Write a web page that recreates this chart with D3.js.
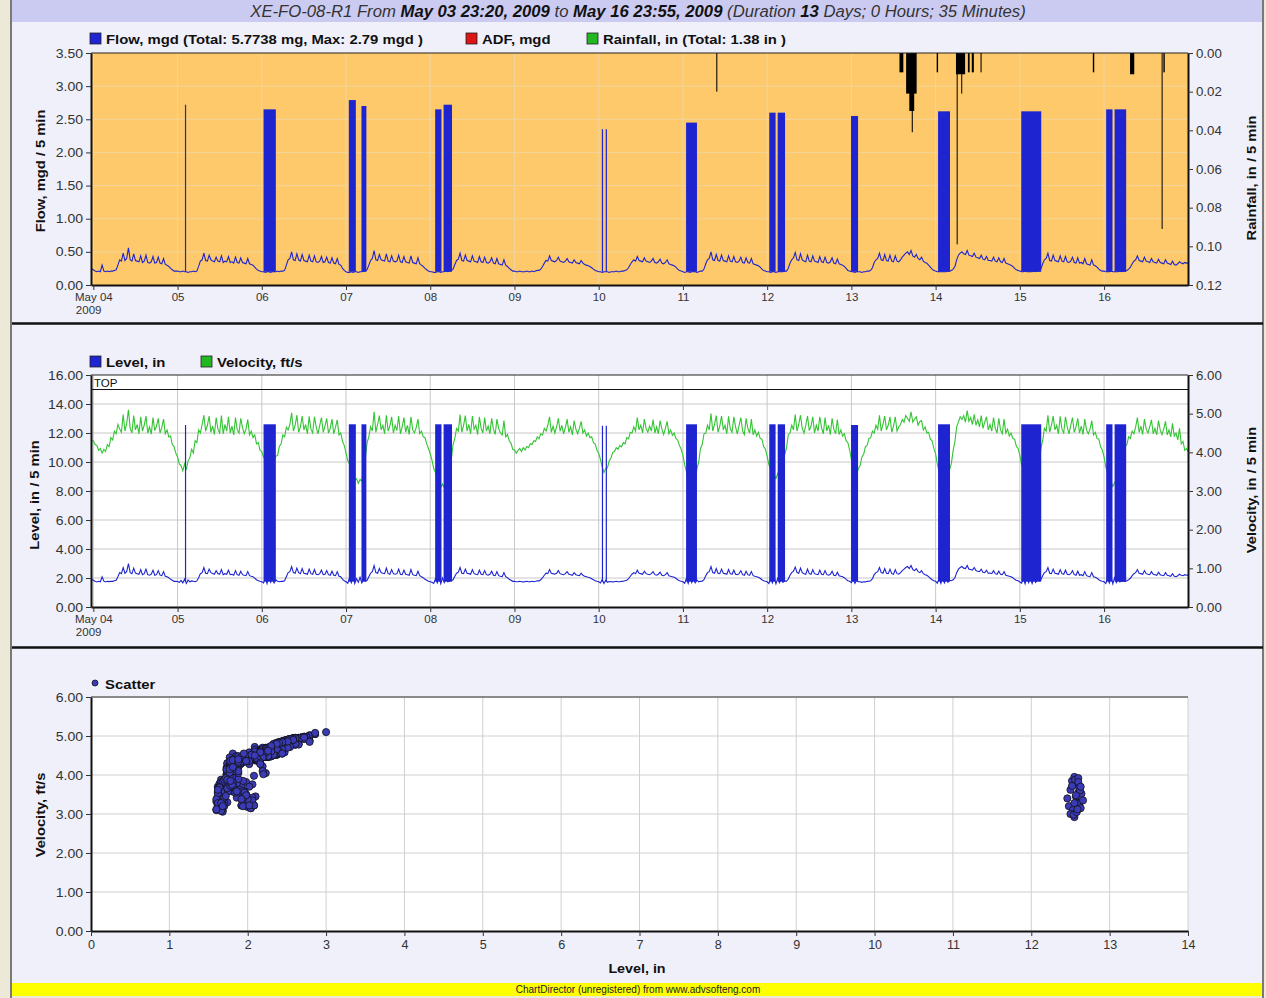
<!DOCTYPE html>
<html>
<head>
<meta charset="utf-8">
<script src="https://cdn.jsdelivr.net/npm/d3@7"></script>
<style>
  body { margin: 0; background: #ECE9D8; }
  svg { display: block; font-family: "Liberation Sans", Arial, sans-serif; }
</style>
</head>
<body>
<svg id="chart" width="1266" height="998"></svg>
<script>
// ---------------- data ----------------
// Day tick labels (hour 0 = May 04 00:00)
const dayNames = ['May 04', '05', '06', '07', '08', '09', '10', '11', '12', '13', '14', '15', '16'];

// Half-hourly readings per day, 00:00 .. 23:30
const flowDays = [
  [.23,.21,.20,.21,.20,.30,.21,.20,.21,.20,.21,.21,.22,.23,.30,.38,.36,.48,.37,.40,.56,.38,.36,.47,.37,.36,.35,.44,.34,.36,.45,.34,.33,.35,.43,.33,.34,.42,.33,.32,.40,.31,.30,.28,.25,.23,.21,.21],
  [.21,.20,.20,.21,.20,.20,.19,.20,.20,.21,.20,.21,.28,.36,.38,.48,.37,.36,.45,.38,.36,.35,.42,.36,.35,.44,.34,.36,.35,.43,.34,.35,.33,.42,.34,.33,.41,.34,.33,.32,.40,.32,.31,.30,.27,.24,.22,.21],
  [.20,.20,.19,.20,.20,.19,.20,.20,.20,.21,.20,.21,.21,.22,.30,.38,.40,.50,.38,.37,.47,.38,.36,.46,.37,.36,.35,.45,.36,.35,.44,.35,.34,.36,.43,.34,.35,.42,.34,.33,.41,.33,.32,.40,.31,.30,.25,.22],
  [.20,.19,.19,.20,.19,.20,.20,.19,.20,.20,.21,.21,.23,.30,.37,.40,.52,.38,.37,.46,.38,.37,.36,.47,.36,.35,.44,.36,.35,.36,.45,.35,.34,.43,.35,.34,.33,.44,.34,.33,.32,.41,.32,.30,.28,.25,.23,.21],
  [.20,.20,.19,.19,.20,.20,.19,.20,.20,.21,.20,.21,.22,.24,.31,.37,.39,.48,.37,.36,.45,.37,.36,.35,.44,.36,.35,.34,.43,.35,.34,.42,.34,.33,.35,.41,.33,.32,.40,.32,.31,.30,.38,.30,.28,.25,.23,.21],
  [.21,.20,.20,.21,.20,.20,.20,.21,.20,.20,.21,.20,.21,.22,.22,.24,.28,.33,.37,.36,.44,.37,.36,.35,.37,.42,.36,.35,.34,.36,.40,.35,.34,.33,.38,.34,.33,.32,.37,.33,.31,.30,.29,.28,.26,.24,.22,.21],
  [.20,.20,.19,.20,.20,.20,.19,.20,.20,.20,.21,.20,.20,.21,.21,.22,.23,.26,.31,.35,.38,.36,.43,.37,.36,.35,.41,.36,.35,.34,.36,.40,.34,.33,.35,.39,.33,.32,.34,.38,.32,.31,.30,.29,.27,.24,.22,.21],
  [.20,.19,.20,.20,.19,.20,.20,.20,.19,.20,.21,.21,.24,.32,.38,.40,.50,.38,.37,.46,.37,.36,.45,.37,.36,.35,.44,.36,.35,.43,.35,.34,.36,.42,.34,.33,.41,.34,.33,.40,.32,.31,.30,.29,.27,.24,.22,.21],
  [.20,.20,.19,.20,.20,.19,.20,.20,.20,.20,.21,.21,.25,.33,.38,.41,.49,.38,.37,.47,.38,.36,.35,.45,.36,.35,.44,.36,.35,.34,.43,.35,.34,.42,.34,.33,.35,.41,.33,.32,.39,.32,.31,.30,.28,.25,.22,.21],
  [.20,.20,.19,.20,.20,.20,.19,.20,.20,.21,.21,.22,.26,.34,.38,.40,.48,.38,.37,.46,.37,.36,.45,.36,.35,.44,.36,.35,.38,.42,.45,.48,.50,.46,.52,.44,.42,.46,.40,.38,.42,.36,.34,.33,.30,.27,.24,.22],
  [.21,.20,.20,.20,.20,.20,.20,.21,.21,.22,.24,.28,.38,.45,.48,.50,.47,.46,.52,.45,.44,.43,.48,.42,.41,.40,.45,.39,.38,.43,.37,.37,.36,.42,.36,.35,.41,.35,.34,.40,.33,.32,.31,.30,.28,.25,.23,.22],
  [.21,.20,.20,.21,.20,.20,.20,.20,.21,.20,.21,.21,.24,.32,.38,.40,.48,.37,.36,.45,.37,.36,.35,.44,.36,.35,.43,.35,.34,.36,.42,.34,.33,.41,.33,.34,.32,.40,.32,.31,.30,.38,.30,.29,.27,.24,.22,.21],
  [.21,.20,.20,.20,.21,.20,.20,.20,.20,.21,.20,.21,.21,.22,.24,.27,.32,.36,.38,.44,.37,.36,.35,.42,.36,.35,.34,.40,.35,.34,.33,.39,.34,.33,.32,.38,.33,.32,.31,.36,.31,.30,.32,.35,.33,.32,.34,.33]
];

const levelDays = [
  [1.85,1.78,1.73,1.77,1.74,2.08,1.78,1.73,1.77,1.75,1.78,1.77,1.81,1.85,2.09,2.37,2.30,2.72,2.33,2.44,3.00,2.37,2.30,2.68,2.34,2.30,2.26,2.58,2.23,2.30,2.61,2.23,2.19,2.26,2.54,2.19,2.23,2.51,2.20,2.16,2.44,2.12,2.09,2.02,1.91,1.84,1.77,1.77],
  [1.76,1.70,1.84,1.66,1.92,1.62,1.86,1.74,1.80,1.77,1.74,1.80,2.02,2.30,2.37,2.72,2.33,2.30,2.61,2.37,2.31,2.26,2.51,2.30,2.27,2.58,2.23,2.30,2.26,2.54,2.23,2.26,2.19,2.51,2.23,2.19,2.47,2.23,2.19,2.16,2.44,2.16,2.12,2.09,1.98,1.88,1.81,1.77],
  [1.74,1.66,1.98,1.62,2.06,1.70,1.94,1.65,1.88,1.77,1.74,1.78,1.77,1.81,2.09,2.37,2.44,2.79,2.37,2.33,2.68,2.37,2.30,2.65,2.33,2.30,2.26,2.61,2.30,2.26,2.58,2.26,2.23,2.30,2.54,2.23,2.26,2.51,2.23,2.19,2.47,2.19,2.16,2.44,2.12,2.09,1.91,1.81],
  [1.74,1.64,2.02,1.68,2.10,1.62,1.96,1.70,2.05,1.66,1.86,1.78,1.84,2.09,2.33,2.44,2.86,2.37,2.33,2.65,2.37,2.33,2.30,2.68,2.30,2.26,2.58,2.30,2.26,2.30,2.61,2.26,2.23,2.54,2.26,2.23,2.19,2.58,2.23,2.19,2.16,2.47,2.16,2.09,2.02,1.91,1.84,1.77],
  [1.74,1.70,1.62,1.96,1.66,2.08,1.60,2.00,1.68,1.92,1.74,1.80,1.81,1.88,2.12,2.33,2.40,2.72,2.33,2.30,2.61,2.33,2.30,2.26,2.58,2.30,2.26,2.23,2.54,2.26,2.23,2.51,2.23,2.19,2.26,2.47,2.19,2.16,2.44,2.16,2.12,2.09,2.37,2.09,2.02,1.91,1.84,1.77],
  [1.77,1.74,1.74,1.77,1.74,1.73,1.74,1.77,1.74,1.74,1.77,1.74,1.77,1.81,1.80,1.88,2.02,2.19,2.33,2.30,2.58,2.33,2.30,2.26,2.33,2.51,2.30,2.26,2.23,2.30,2.44,2.26,2.23,2.19,2.37,2.23,2.19,2.16,2.33,2.19,2.12,2.09,2.05,2.02,1.95,1.88,1.81,1.77],
  [1.74,1.66,1.90,1.62,1.84,1.70,1.76,1.74,1.73,1.74,1.77,1.74,1.74,1.77,1.78,1.81,1.84,1.95,2.12,2.26,2.37,2.30,2.54,2.33,2.30,2.26,2.47,2.30,2.26,2.23,2.30,2.44,2.23,2.19,2.26,2.40,2.19,2.16,2.23,2.37,2.16,2.12,2.09,2.05,1.98,1.88,1.81,1.77],
  [1.74,1.64,1.98,1.62,2.04,1.68,1.92,1.66,1.86,1.74,1.77,1.78,1.88,2.16,2.37,2.44,2.79,2.37,2.33,2.65,2.33,2.30,2.61,2.33,2.30,2.26,2.58,2.30,2.26,2.54,2.26,2.23,2.30,2.51,2.23,2.19,2.47,2.23,2.19,2.44,2.16,2.12,2.09,2.05,1.98,1.88,1.81,1.77],
  [1.74,1.62,1.96,1.66,2.06,1.60,1.98,1.68,1.90,1.70,1.80,1.78,1.91,2.19,2.37,2.47,2.75,2.37,2.33,2.68,2.37,2.30,2.26,2.61,2.30,2.26,2.58,2.30,2.26,2.23,2.54,2.26,2.23,2.51,2.23,2.19,2.26,2.47,2.19,2.16,2.40,2.16,2.12,2.09,2.02,1.91,1.81,1.77],
  [1.68,1.94,1.62,1.86,1.75,1.74,1.70,1.74,1.73,1.77,1.78,1.81,1.95,2.23,2.37,2.44,2.72,2.37,2.33,2.65,2.33,2.30,2.61,2.30,2.26,2.58,2.30,2.26,2.37,2.51,2.61,2.72,2.79,2.65,2.86,2.58,2.51,2.65,2.44,2.37,2.51,2.30,2.23,2.19,2.09,1.98,1.88,1.81],
  [1.77,1.64,1.98,1.62,2.04,1.66,1.94,1.70,1.84,1.81,1.88,2.02,2.37,2.61,2.72,2.79,2.68,2.65,2.86,2.61,2.58,2.54,2.72,2.51,2.47,2.44,2.61,2.40,2.37,2.54,2.33,2.34,2.30,2.51,2.30,2.26,2.47,2.26,2.23,2.44,2.19,2.16,2.12,2.09,2.02,1.91,1.84,1.81],
  [1.72,1.64,1.96,1.60,2.06,1.68,2.00,1.62,1.94,1.70,1.86,1.78,1.88,2.16,2.37,2.44,2.72,2.33,2.30,2.61,2.33,2.30,2.26,2.58,2.30,2.26,2.54,2.26,2.23,2.30,2.51,2.23,2.19,2.47,2.19,2.23,2.16,2.44,2.16,2.12,2.09,2.37,2.09,2.05,1.98,1.88,1.81,1.77],
  [1.74,1.62,1.98,1.66,2.08,1.60,2.02,1.68,1.92,1.72,1.80,1.78,1.77,1.81,1.88,1.98,2.16,2.30,2.37,2.58,2.33,2.30,2.26,2.51,2.30,2.26,2.23,2.44,2.26,2.23,2.19,2.40,2.23,2.19,2.16,2.37,2.19,2.16,2.12,2.30,2.12,2.09,2.16,2.26,2.19,2.16,2.23,2.19]
];

const velocityDays = [
  [4.30,4.20,4.18,4.05,4.10,3.98,4.08,4.02,4.20,4.15,4.38,4.32,4.55,4.48,4.72,4.60,4.52,4.98,4.55,4.74,5.10,4.62,4.50,4.95,4.58,4.72,4.48,4.92,4.55,4.70,4.94,4.50,4.66,4.47,4.90,4.56,4.68,4.88,4.50,4.64,4.86,4.48,4.58,4.40,4.42,4.20,4.15,3.98],
  [3.88,3.70,3.65,3.52,3.70,3.55,3.78,3.86,4.08,3.98,4.30,4.25,4.58,4.50,4.72,4.96,4.55,4.70,4.94,4.52,4.68,4.46,4.90,4.60,4.50,4.95,4.48,4.72,4.55,4.92,4.50,4.68,4.45,4.90,4.58,4.50,4.88,4.64,4.48,4.60,4.85,4.45,4.55,4.38,4.45,4.22,4.25,4.05],
  [4.02,3.88,3.82,3.70,3.76,3.68,3.85,3.74,3.90,3.92,4.15,4.22,4.45,4.40,4.65,4.58,4.72,5.02,4.55,4.70,4.96,4.52,4.66,4.94,4.58,4.72,4.48,4.93,4.60,4.50,4.92,4.66,4.48,4.70,4.90,4.52,4.68,4.88,4.50,4.62,4.86,4.48,4.65,4.84,4.45,4.50,4.28,4.18],
  [3.98,3.78,3.70,3.48,3.45,3.28,3.32,3.20,3.30,3.25,3.60,3.85,4.25,4.40,4.66,4.55,5.05,4.52,4.72,4.95,4.58,4.70,4.48,4.96,4.55,4.68,4.92,4.50,4.70,4.56,4.94,4.48,4.66,4.90,4.52,4.70,4.46,4.92,4.58,4.50,4.64,4.86,4.48,4.55,4.40,4.38,4.22,4.10],
  [3.96,3.80,3.58,3.48,3.28,3.22,3.10,3.18,3.08,3.22,3.30,3.58,3.82,4.20,4.36,4.62,4.55,4.98,4.52,4.70,4.95,4.55,4.72,4.48,4.94,4.60,4.70,4.46,4.92,4.62,4.50,4.90,4.55,4.68,4.48,4.88,4.60,4.46,4.86,4.62,4.50,4.45,4.82,4.40,4.46,4.30,4.24,4.08],
  [4.06,3.98,4.05,4.10,4.02,4.12,4.06,4.15,4.12,4.22,4.20,4.30,4.28,4.40,4.35,4.48,4.45,4.62,4.55,4.70,4.92,4.52,4.68,4.50,4.66,4.88,4.55,4.70,4.48,4.64,4.86,4.52,4.66,4.45,4.82,4.60,4.48,4.62,4.80,4.50,4.58,4.42,4.50,4.38,4.40,4.25,4.22,4.06],
  [3.98,3.82,3.62,3.48,3.58,3.60,3.78,3.85,4.00,4.02,4.12,4.08,4.18,4.14,4.25,4.22,4.38,4.35,4.52,4.50,4.66,4.55,4.90,4.58,4.70,4.50,4.86,4.62,4.52,4.68,4.55,4.85,4.50,4.66,4.48,4.82,4.60,4.46,4.62,4.80,4.48,4.58,4.44,4.50,4.36,4.32,4.18,4.08],
  [3.92,3.68,3.50,3.22,3.15,3.06,3.22,3.28,3.58,3.75,4.10,4.20,4.48,4.50,4.70,4.58,5.00,4.55,4.72,4.95,4.52,4.68,4.94,4.58,4.70,4.48,4.93,4.60,4.52,4.92,4.66,4.48,4.70,4.90,4.55,4.46,4.88,4.62,4.50,4.86,4.45,4.58,4.42,4.52,4.36,4.34,4.15,4.08],
  [3.90,3.68,3.58,3.40,3.42,3.32,3.45,3.35,3.50,3.58,3.95,4.10,4.45,4.50,4.70,4.58,4.98,4.55,4.72,4.96,4.62,4.50,4.70,4.94,4.56,4.68,4.92,4.50,4.70,4.55,4.92,4.64,4.48,4.90,4.55,4.70,4.46,4.88,4.60,4.48,4.85,4.46,4.58,4.42,4.48,4.30,4.25,4.06],
  [3.82,3.58,3.52,3.42,3.58,3.66,3.88,3.95,4.15,4.18,4.36,4.38,4.55,4.50,4.70,4.60,4.96,4.55,4.72,4.94,4.58,4.70,4.92,4.52,4.68,4.92,4.55,4.66,4.72,4.85,4.78,4.95,4.88,4.80,5.05,4.78,4.86,4.92,4.70,4.80,4.82,4.58,4.66,4.50,4.52,4.34,4.30,4.10],
  [3.96,3.70,3.48,3.22,3.15,3.08,3.20,3.28,3.55,3.72,4.05,4.28,4.66,4.78,4.92,4.85,4.95,4.78,5.08,4.80,4.90,4.72,4.98,4.70,4.84,4.66,4.95,4.62,4.78,4.92,4.58,4.72,4.55,4.90,4.62,4.50,4.88,4.58,4.48,4.86,4.50,4.60,4.42,4.50,4.36,4.34,4.16,4.10],
  [3.92,3.68,3.55,3.38,3.35,3.26,3.38,3.28,3.40,3.42,3.58,3.72,4.10,4.30,4.62,4.55,4.96,4.52,4.70,4.94,4.58,4.70,4.48,4.93,4.60,4.50,4.92,4.66,4.48,4.70,4.90,4.52,4.66,4.88,4.50,4.68,4.46,4.86,4.58,4.48,4.60,4.82,4.45,4.52,4.36,4.34,4.15,4.06],
  [3.88,3.62,3.48,3.28,3.22,3.12,3.22,3.20,3.38,3.46,3.75,3.85,4.15,4.20,4.40,4.36,4.55,4.48,4.66,4.90,4.52,4.68,4.46,4.86,4.60,4.50,4.66,4.84,4.48,4.62,4.45,4.82,4.58,4.46,4.60,4.80,4.45,4.58,4.40,4.75,4.42,4.50,4.32,4.62,4.22,4.28,4.05,4.10]
];

// First reading (May 03 23:20) and last reading (May 16 23:55): flow, level, velocity
const leadValues = [0.25, 1.92, 4.30];
const tailValues = [0.33, 2.20, 4.02];

// Surcharge windows (hours from May 04 00:00) with peak flow and level
const surgeStart     = [26.10, 48.5, 72.8, 76.4, 97.4, 99.8, 144.9, 146.0, 168.9, 192.6, 195.0, 215.9, 240.7, 264.4, 288.6, 291.0];
const surgeEnd       = [26.30, 52.0, 74.8, 77.8, 99.2, 102.2, 145.05, 146.15, 172.0, 194.4, 197.1, 217.9, 244.1, 270.1, 290.4, 294.3];
const surgeFlowPeak  = [2.72, 2.65, 2.79, 2.70, 2.65, 2.72, 2.35, 2.35, 2.45, 2.60, 2.60, 2.55, 2.62, 2.62, 2.65, 2.65];
const surgeLevelPeak = [12.55, 12.60, 12.60, 12.60, 12.60, 12.60, 12.50, 12.50, 12.60, 12.60, 12.60, 12.55, 12.60, 12.60, 12.60, 12.60];

// Level / velocity pairs logged while surcharged
const surchargeLevel    = [12.46,12.50,12.52,12.55,12.58,12.60,12.62,12.48,12.53,12.57,12.61,12.64,12.50,12.55,12.59,12.63,12.52,12.56,12.60,12.66,12.54,12.58,12.62,12.57,12.60,12.55,12.59,12.63];
const surchargeVelocity = [3.40,3.62,3.85,3.95,3.78,3.55,3.30,3.20,3.10,3.45,3.68,3.52,3.00,2.92,3.25,3.15,3.72,3.88,3.92,3.35,2.98,3.05,3.60,3.48,3.82,3.28,3.12,3.70];

// Rainfall runs (hours from May 04 00:00) and depth per 5 min
const rainStart = [177.5, 229.7, 231.6, 232.5, 233.2, 240.3, 245.8, 246.0, 247.3, 249.2, 250.3, 252.8, 284.8, 295.4, 304.4, 304.9];
const rainEnd   = [177.8, 230.8, 234.6, 233.9, 233.5, 240.7, 248.4, 246.2, 247.5, 249.7, 250.9, 253.1, 285.2, 296.6, 304.6, 305.3];
const rainDepth = [0.020, 0.010, 0.021, 0.030, 0.041, 0.010, 0.011, 0.099, 0.021, 0.010, 0.010, 0.010, 0.010, 0.011, 0.091, 0.010];

const flowTicks = [0, 0.5, 1, 1.5, 2, 2.5, 3, 3.5];
const rainTicks = [0, 0.02, 0.04, 0.06, 0.08, 0.10, 0.12];
const levelTicks = [0, 2, 4, 6, 8, 10, 12, 14, 16];
const velocityTicks = [0, 1, 2, 3, 4, 5, 6];
const scatterXTicks = [0,1,2,3,4,5,6,7,8,9,10,11,12,13,14];

// ---------------- drawing ----------------
const W = 1266, H = 998;
const BLUE = '#1d24d0', GREEN = '#33c433';
const svg = d3.select('#chart');
const startHour = -40 / 60, endHour = 311 + 55 / 60;

// the chart fonts run a little wider than Liberation Sans; widen glyph runs to suit
function widen(sel, k) {
  sel.each(function () {
    const len = this.getComputedTextLength();
    if (len > 0) d3.select(this).attr('textLength', (len * k).toFixed(1)).attr('lengthAdjust', 'spacingAndGlyphs');
  });
  return sel;
}

function buildSeries(byDay, k) {
  const pts = [{ t: startHour, v: leadValues[k] }];
  byDay.forEach((day, d) => day.forEach((v, s) => pts.push({ t: d * 24 + s * 0.5, v })));
  pts.push({ t: endHour, v: tailValues[k] });
  return pts;
}
const flowSeries = buildSeries(flowDays, 0);
const levelSeries = buildSeries(levelDays, 1);
const velocitySeries = buildSeries(velocityDays, 2);

// page frame
svg.append('rect').attr('width', W).attr('height', H).attr('fill', '#ECE9D8');
svg.append('rect').attr('x', 11).attr('y', 0).attr('width', 1252).attr('height', 984).attr('fill', '#F0F0FA');
svg.append('line').attr('x1', 11).attr('x2', 11).attr('y1', 0).attr('y2', 998).attr('stroke', '#555').attr('stroke-width', 1.5);
svg.append('line').attr('x1', 1263).attr('x2', 1263).attr('y1', 0).attr('y2', 998).attr('stroke', '#555').attr('stroke-width', 1.5);

// title bar
svg.append('rect').attr('x', 12).attr('y', 0).attr('width', 1250).attr('height', 22).attr('fill', '#CBCBF2');
const title = svg.append('text').attr('x', 638).attr('y', 17).attr('text-anchor', 'middle')
  .attr('font-size', 16.7).attr('font-style', 'italic').attr('fill', '#333');
[['XE-FO-08-R1 From ', false], ['May 03 23:20, 2009', true], [' to ', false], ['May 16 23:55, 2009', true],
 [' (Duration ', false], ['13', true], [' Days; 0 Hours; 35 Minutes)', false]]
  .forEach(([s, b]) => title.append('tspan').text(s).attr('font-weight', b ? 'bold' : 'normal').attr('fill', b ? '#111' : '#333'));

// section separators
[323.5, 647.5].forEach(y => svg.append('line').attr('x1', 12).attr('x2', 1263).attr('y1', y).attr('y2', y)
  .attr('stroke', '#111').attr('stroke-width', 2.5));

// footer
svg.append('rect').attr('x', 12).attr('y', 983).attr('width', 1250).attr('height', 13).attr('fill', '#FFFF00');
svg.append('text').attr('x', 638).attr('y', 993).attr('text-anchor', 'middle').attr('font-size', 10)
  .attr('fill', '#222').text('ChartDirector (unregistered) from www.advsofteng.com');

function legendBox(x, y, color, label) {
  svg.append('rect').attr('x', x).attr('y', y - 5).attr('width', 11).attr('height', 11)
    .attr('fill', color).attr('stroke', '#222').attr('stroke-width', 0.8);
  widen(svg.append('text').attr('x', x + 16).attr('y', y + 5.5).attr('font-size', 13.5).attr('font-weight', 'bold')
    .attr('fill', '#111').text(label), 1.1);
}

function styleAxis(g, size, k) {
  g.attr('font-family', null).attr('font-size', null);
  g.select('.domain').attr('stroke', '#111').attr('stroke-width', 2);
  g.selectAll('.tick line').attr('stroke', '#333');
  const t = g.selectAll('.tick text').attr('fill', '#333').attr('font-size', size || 12.5);
  widen(t, k || 1.12);
}

function axisTitle(x, y, text) {
  widen(svg.append('text').attr('transform', `translate(${x},${y}) rotate(-90)`).attr('text-anchor', 'middle')
    .attr('dominant-baseline', 'central').attr('font-size', 13).attr('font-weight', 'bold').attr('fill', '#111').text(text), 1.13);
}

const L = 91, R = 1188;
const x = d3.scaleLinear().domain([startHour, endHour]).range([L, R]);
const dayTicks = dayNames.map((_, i) => i * 24);

function timeAxis(yPos) {
  const g = svg.append('g').attr('transform', `translate(0,${yPos})`)
    .call(d3.axisBottom(x).tickValues(dayTicks).tickFormat((d, i) => dayNames[i]).tickSize(5).tickSizeOuter(0).tickPadding(3));
  styleAxis(g, 11.5, 1.0);
  g.selectAll('.tick').filter((d, i) => i === 0).append('text')
    .attr('x', -18).attr('y', 21).attr('dy', '0.71em').attr('fill', '#333').attr('font-size', 11.5).attr('text-anchor', 'start').text('2009');
  return g;
}

// ===== Panel 1: flow & rainfall =====
const T1 = 53, B1 = 285;
const yFlow = d3.scaleLinear().domain([0, 3.5]).range([B1, T1]);
const yRain = d3.scaleLinear().domain([0, 0.12]).range([T1, B1]);

svg.append('rect').attr('x', L).attr('y', T1).attr('width', R - L).attr('height', B1 - T1).attr('fill', '#FEC96A');
const grid1 = svg.append('g').attr('stroke', '#F2D59C').attr('stroke-width', 1);
flowTicks.slice(1, -1).forEach(v => grid1.append('line').attr('x1', L).attr('x2', R).attr('y1', yFlow(v)).attr('y2', yFlow(v)));
dayTicks.forEach(t => grid1.append('line').attr('x1', x(t)).attr('x2', x(t)).attr('y1', T1).attr('y2', B1));

const flowLine = d3.line().x(d => x(d.t)).y(d => yFlow(d.v));
svg.append('path').datum(flowSeries).attr('d', flowLine).attr('fill', 'none').attr('stroke', BLUE).attr('stroke-width', 1.1);

svg.append('g').selectAll('rect').data(surgeStart).join('rect')
  .attr('x', (d, i) => x(d)).attr('width', (d, i) => Math.max(1.2, x(surgeEnd[i]) - x(d)))
  .attr('y', (d, i) => yFlow(surgeFlowPeak[i])).attr('height', (d, i) => yFlow(0.2) - yFlow(surgeFlowPeak[i]))
  .attr('fill', BLUE);

svg.append('g').selectAll('rect').data(rainStart).join('rect')
  .attr('x', d => x(d)).attr('width', (d, i) => Math.max(1, x(rainEnd[i]) - x(d)))
  .attr('y', yRain(0)).attr('height', (d, i) => yRain(rainDepth[i]) - yRain(0)).attr('fill', '#000');

svg.append('line').attr('x1', L).attr('x2', R).attr('y1', T1).attr('y2', T1).attr('stroke', '#222').attr('stroke-width', 1);
styleAxis(svg.append('g').attr('transform', `translate(${L},0)`)
  .call(d3.axisLeft(yFlow).tickValues(flowTicks).tickFormat(d3.format('.2f')).tickSize(5).tickSizeOuter(0).tickPadding(3)));
styleAxis(svg.append('g').attr('transform', `translate(${R},0)`)
  .call(d3.axisRight(yRain).tickValues(rainTicks).tickFormat(d3.format('.2f')).tickSize(5).tickSizeOuter(0).tickPadding(3)), 12.5, 1.06);
timeAxis(B1);

legendBox(90, 38, BLUE, 'Flow, mgd (Total: 5.7738 mg, Max: 2.79 mgd )');
legendBox(466, 38, '#DD1515', 'ADF, mgd');
legendBox(587, 38, '#22B822', 'Rainfall, in (Total: 1.38 in )');
axisTitle(40, 171, 'Flow, mgd / 5 min');
axisTitle(1251, 178, 'Rainfall, in / 5 min');

// ===== Panel 2: level & velocity =====
const T2 = 375, B2 = 607;
const yLevel = d3.scaleLinear().domain([0, 16]).range([B2, T2]);
const yVel = d3.scaleLinear().domain([0, 6]).range([B2, T2]);

svg.append('rect').attr('x', L).attr('y', T2).attr('width', R - L).attr('height', B2 - T2).attr('fill', '#fff');
const grid2 = svg.append('g').attr('stroke', '#C8C8C8').attr('stroke-width', 1);
levelTicks.slice(1, -1).forEach(v => grid2.append('line').attr('x1', L).attr('x2', R).attr('y1', yLevel(v)).attr('y2', yLevel(v)));
dayTicks.forEach(t => grid2.append('line').attr('x1', x(t)).attr('x2', x(t)).attr('y1', T2).attr('y2', B2));

svg.append('path').datum(velocitySeries).attr('d', d3.line().x(d => x(d.t)).y(d => yVel(d.v)))
  .attr('fill', 'none').attr('stroke', GREEN).attr('stroke-width', 1.1);
svg.append('path').datum(levelSeries).attr('d', d3.line().x(d => x(d.t)).y(d => yLevel(d.v)))
  .attr('fill', 'none').attr('stroke', BLUE).attr('stroke-width', 1.1);
svg.append('g').selectAll('rect').data(surgeStart).join('rect')
  .attr('x', d => x(d)).attr('width', (d, i) => Math.max(1.2, x(surgeEnd[i]) - x(d)))
  .attr('y', (d, i) => yLevel(surgeLevelPeak[i])).attr('height', (d, i) => yLevel(1.75) - yLevel(surgeLevelPeak[i]))
  .attr('fill', BLUE);

// pipe crown marker
svg.append('line').attr('x1', L).attr('x2', R).attr('y1', yLevel(15)).attr('y2', yLevel(15)).attr('stroke', '#111').attr('stroke-width', 1.2);
svg.append('text').attr('x', L + 3).attr('y', yLevel(15) - 3).attr('font-size', 11.5).attr('fill', '#111').text('TOP');

svg.append('line').attr('x1', L).attr('x2', R).attr('y1', T2).attr('y2', T2).attr('stroke', '#222').attr('stroke-width', 1);
styleAxis(svg.append('g').attr('transform', `translate(${L},0)`)
  .call(d3.axisLeft(yLevel).tickValues(levelTicks).tickFormat(d3.format('.2f')).tickSize(5).tickSizeOuter(0).tickPadding(3)));
styleAxis(svg.append('g').attr('transform', `translate(${R},0)`)
  .call(d3.axisRight(yVel).tickValues(velocityTicks).tickFormat(d3.format('.2f')).tickSize(5).tickSizeOuter(0).tickPadding(3)), 12.5, 1.06);
timeAxis(B2);

legendBox(90, 361, BLUE, 'Level, in');
legendBox(201, 361, '#22B822', 'Velocity, ft/s');
axisTitle(34, 495, 'Level, in / 5 min');
axisTitle(1251, 490, 'Velocity, in / 5 min');

// ===== Panel 3: scatter =====
const T3 = 697, B3 = 931;
const xs = d3.scaleLinear().domain([0, 14]).range([L, R]);
const ys = d3.scaleLinear().domain([0, 6]).range([B3, T3]);

svg.append('rect').attr('x', L).attr('y', T3).attr('width', R - L).attr('height', B3 - T3).attr('fill', '#fff');
const grid3 = svg.append('g').attr('stroke', '#D0D0D0').attr('stroke-width', 1);
velocityTicks.slice(1).forEach(v => grid3.append('line').attr('x1', L).attr('x2', R).attr('y1', ys(v)).attr('y2', ys(v)));
scatterXTicks.slice(1).forEach(v => grid3.append('line').attr('x1', xs(v)).attr('x2', xs(v)).attr('y1', T3).attr('y2', B3));

const scatterPts = levelSeries.map((d, i) => [d.v, velocitySeries[i].v])
  .concat(surchargeLevel.map((l, i) => [l, surchargeVelocity[i]]));
svg.append('g').selectAll('circle').data(scatterPts).join('circle')
  .attr('cx', d => xs(d[0])).attr('cy', d => ys(d[1])).attr('r', 3.6)
  .attr('fill', '#3b3bb8').attr('stroke', '#111').attr('stroke-width', 0.8);

svg.append('line').attr('x1', L).attr('x2', R).attr('y1', T3).attr('y2', T3).attr('stroke', '#333').attr('stroke-width', 1);
styleAxis(svg.append('g').attr('transform', `translate(${L},0)`)
  .call(d3.axisLeft(ys).tickValues(velocityTicks).tickFormat(d3.format('.2f')).tickSize(5).tickSizeOuter(0).tickPadding(3)));
styleAxis(svg.append('g').attr('transform', `translate(0,${B3})`)
  .call(d3.axisBottom(xs).tickValues(scatterXTicks).tickFormat(d3.format('d')).tickSize(5).tickSizeOuter(0).tickPadding(4)), 12.5, 1.0);

svg.append('circle').attr('cx', 95).attr('cy', 683).attr('r', 3).attr('fill', '#3b3bb8').attr('stroke', '#111').attr('stroke-width', 0.8);
widen(svg.append('text').attr('x', 105).attr('y', 688.5).attr('font-size', 13.5).attr('font-weight', 'bold').attr('fill', '#111').text('Scatter'), 1.1);
axisTitle(40, 815, 'Velocity, ft/s');
widen(svg.append('text').attr('x', 637).attr('y', 973).attr('text-anchor', 'middle').attr('font-size', 13)
  .attr('font-weight', 'bold').attr('fill', '#111').text('Level, in'), 1.1);
</script>
</body>
</html>
